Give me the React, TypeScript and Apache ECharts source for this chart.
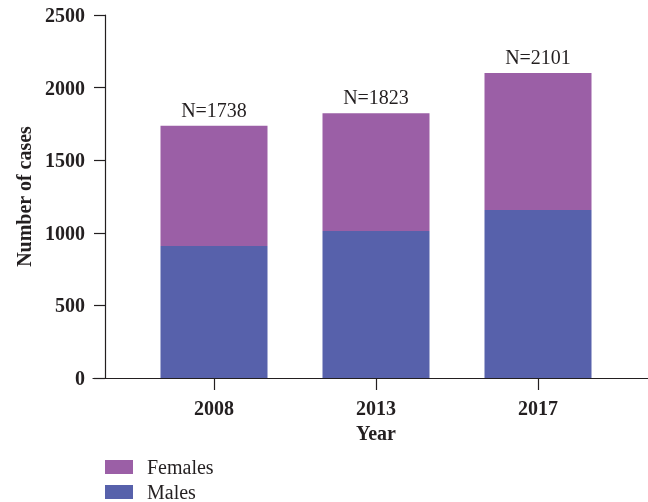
import React, { useEffect, useRef } from "react";
import * as echarts from "echarts";

const years = ["2008", "2013", "2017"];
const males = [909, 1012, 1157];
const females = [829, 811, 944];
const totals = [1738, 1823, 2101];
const yTicks = { min: 0, max: 2500, interval: 500 };

const FONT = "'Liberation Serif', 'DejaVu Serif', serif";
const INK = "#231f20";
const PURPLE = "#9b5fa6";
const BLUE = "#5761ab";
const FS = 20;

export default function App() {
  const ref = useRef<HTMLDivElement>(null);
  useEffect(() => {
    if (!ref.current) return;
    const chart = echarts.init(ref.current, null, { renderer: "svg" });
    chart.setOption({
      animation: false,
      textStyle: { fontFamily: FONT, color: INK },
      legend: {
        orient: "vertical",
        left: 105,
        top: 457,
        height: 45,
        itemWidth: 28,
        itemHeight: 14,
        itemGap: 5,
        padding: 0,
        icon: "rect",
        data: ["Females", "Males"],
        textStyle: { fontFamily: FONT, fontSize: FS, color: INK, padding: [0, 0, 0, 9] },
      },
      grid: [
        { left: 133, top: 15, width: 486, bottom: 124 },
        { left: 93, top: 15, width: 555, bottom: 124 },
      ],
      xAxis: [
        {
          type: "category",
          gridIndex: 0,
          data: years,
          axisLine: { show: false },
          axisTick: { show: true, alignWithLabel: true, length: 12, lineStyle: { color: INK, width: 1.2 } },
          axisLabel: { fontFamily: FONT, fontSize: FS, fontWeight: "bold", color: INK, margin: 20 },
          name: "Year",
          nameLocation: "middle",
          nameGap: 44,
          nameTextStyle: { fontFamily: FONT, fontSize: FS, fontWeight: "bold", color: INK },
        },
        {
          type: "value",
          gridIndex: 1,
          min: 0,
          max: 1,
          axisLine: { show: true, lineStyle: { color: INK, width: 1.2 } },
          axisTick: { show: false },
          axisLabel: { show: false },
          splitLine: { show: false },
        },
      ],
      yAxis: [
        {
          type: "value",
          gridIndex: 0,
          min: yTicks.min,
          max: yTicks.max,
          interval: yTicks.interval,
          offset: 28,
          axisLine: { show: true, lineStyle: { color: INK, width: 1.2 } },
          axisTick: { show: true, length: 11, lineStyle: { color: INK, width: 1.2 } },
          splitLine: { show: false },
          axisLabel: {
            fontFamily: FONT,
            fontSize: FS,
            fontWeight: "bold",
            color: INK,
            margin: 20,
            formatter: (v: number) => String(v),
          },
          name: "Number of cases",
          nameLocation: "middle",
          nameGap: 70,
          nameTextStyle: { fontFamily: FONT, fontSize: FS, fontWeight: "bold", color: INK },
        },
        {
          type: "value",
          gridIndex: 1,
          show: false,
        },
      ],
      series: [
        {
          name: "Males",
          type: "bar",
          stack: "total",
          data: males,
          barWidth: 107,
          itemStyle: { color: BLUE },
        },
        {
          name: "Females",
          type: "bar",
          stack: "total",
          data: females,
          barWidth: 107,
          itemStyle: { color: PURPLE },
          label: {
            show: true,
            position: "top",
            distance: 6,
            fontFamily: FONT,
            fontSize: FS,
            color: INK,
            formatter: (p: any) => "N=" + totals[p.dataIndex],
          },
        },
      ],
    });
    return () => chart.dispose();
  }, []);
  return (
    <div
      ref={ref}
      style={{ position: "fixed", left: 0, top: 0, width: 648, height: 502 }}
    />
  );
}
